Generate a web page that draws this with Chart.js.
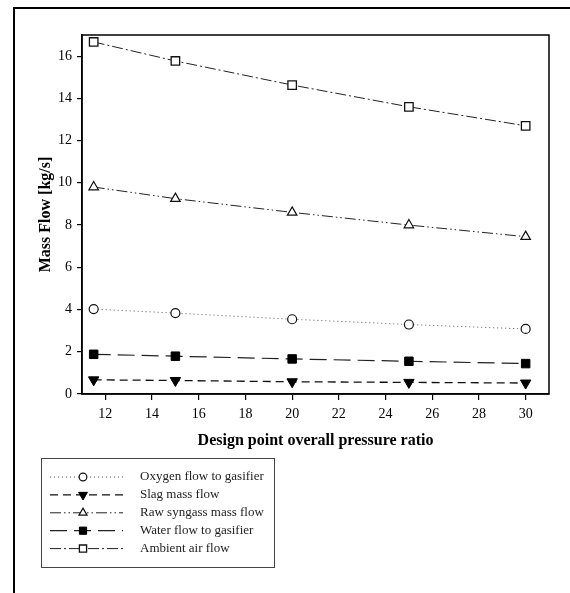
<!DOCTYPE html>
<html>
<head>
<meta charset="utf-8">
<script src="https://cdn.jsdelivr.net/npm/chart.js@4.4.1/dist/chart.umd.min.js"></script>
<style>
  html, body { margin: 0; padding: 0; background: #fff; }
  #wrap { position: relative; width: 570px; height: 593px; }
</style>
</head>
<body>
<div id="wrap"><canvas id="massFlowChart" width="570" height="593"></canvas></div>
<script>
// Pressure ratio sweep and resulting mass flows [kg/s]
const pressureRatio = [11.5, 15, 20, 25, 30];
const oxygenFlow = [4.02, 3.83, 3.54, 3.29, 3.08];
const slagFlow = [0.67, 0.64, 0.58, 0.55, 0.52];
const syngasFlow = [9.8, 9.25, 8.6, 8.0, 7.45];
const waterFlow = [1.88, 1.79, 1.66, 1.55, 1.44];
const airFlow = [16.67, 15.77, 14.63, 13.6, 12.7];

const xTicks = [12, 14, 16, 18, 20, 22, 24, 26, 28, 30];
const yTicks = [0, 2, 4, 6, 8, 10, 12, 14, 16];

const seriesNames = [
    'Oxygen flow to gasifier',
    'Slag mass flow',
    'Raw syngass mass flow',
    'Water flow to gasifier',
    'Ambient air flow'
];

const serif = '"Liberation Serif", "Times New Roman", serif';

function points(values) {
    return pressureRatio.map((x, i) => ({ x: x, y: values[i] }));
}

const datasets = [
    {
        label: seriesNames[0], data: points(oxygenFlow),
        borderColor: '#555', borderWidth: 1, borderDash: [1, 3],
        pointStyle: 'circle', pointRadius: 4.5,
        pointBackgroundColor: '#fff', pointBorderColor: '#111', pointBorderWidth: 1.2
    },
    {
        label: seriesNames[1], data: points(slagFlow),
        borderColor: '#111', borderWidth: 1.3, borderDash: [8, 5],
        pointStyle: 'triangle', rotation: 180, pointRadius: 6,
        pointBackgroundColor: '#000', pointBorderColor: '#000', pointBorderWidth: 1
    },
    {
        label: seriesNames[2], data: points(syngasFlow),
        borderColor: '#222', borderWidth: 1, borderDash: [11, 3, 1.5, 3, 1.5, 3],
        pointStyle: 'triangle', pointRadius: 5.5,
        pointBackgroundColor: '#fff', pointBorderColor: '#111', pointBorderWidth: 1.2
    },
    {
        label: seriesNames[3], data: points(waterFlow),
        borderColor: '#222', borderWidth: 1.2, borderDash: [17, 7],
        pointStyle: 'rect', pointRadius: 6,
        pointBackgroundColor: '#000', pointBorderColor: '#000', pointBorderWidth: 1
    },
    {
        label: seriesNames[4], data: points(airFlow),
        borderColor: '#222', borderWidth: 1, borderDash: [11, 3, 2, 3],
        pointStyle: 'rect', pointRadius: 6,
        pointBackgroundColor: '#fff', pointBorderColor: '#111', pointBorderWidth: 1.3
    }
];

// Outer frame, closed plot box, axis titles and the boxed legend
const decorations = {
    id: 'decorations',
    afterDraw(chart) {
        const ctx = chart.ctx;
        const area = chart.chartArea;

        ctx.save();
        ctx.strokeStyle = '#000';
        ctx.lineWidth = 2;
        ctx.beginPath();
        ctx.moveTo(14, 593);
        ctx.lineTo(14, 8);
        ctx.lineTo(570, 8);
        ctx.stroke();

        ctx.lineWidth = 1.5;
        ctx.strokeRect(area.left, area.top, area.right - area.left, area.bottom - area.top);

        ctx.fillStyle = '#000';
        ctx.font = 'bold 16px ' + serif;
        ctx.textAlign = 'center';
        ctx.textBaseline = 'middle';
        ctx.fillText('Design point overall pressure ratio', (area.left + area.right) / 2, 441);

        ctx.save();
        ctx.translate(46, (area.top + area.bottom) / 2);
        ctx.rotate(-Math.PI / 2);
        ctx.fillText('Mass Flow [kg/s]', 0, 0);
        ctx.restore();

        // legend
        const box = { left: 41, top: 458, right: 274, bottom: 567 };
        ctx.lineWidth = 1;
        ctx.strokeStyle = '#444';
        ctx.strokeRect(box.left + 0.5, box.top + 0.5, box.right - box.left, box.bottom - box.top);

        ctx.font = '13px ' + serif;
        ctx.textAlign = 'left';
        ctx.fillStyle = '#222';
        chart.data.datasets.forEach((ds, i) => {
            const y = 477 + i * 17.9;
            ctx.save();
            ctx.strokeStyle = ds.borderColor;
            ctx.lineWidth = ds.borderWidth;
            ctx.setLineDash(ds.borderDash);
            ctx.beginPath();
            ctx.moveTo(50, y);
            ctx.lineTo(123, y);
            ctx.stroke();
            ctx.restore();

            ctx.save();
            ctx.fillStyle = ds.pointBackgroundColor;
            ctx.strokeStyle = ds.pointBorderColor;
            ctx.lineWidth = ds.pointBorderWidth;
            Chart.helpers.drawPoint(ctx, {
                pointStyle: ds.pointStyle,
                rotation: ds.rotation || 0,
                radius: ds.pointRadius * 0.85,
                borderWidth: ds.pointBorderWidth
            }, 83, y);
            ctx.restore();

            ctx.fillText(ds.label, 140, y);
        });
        ctx.restore();
    }
};

new Chart(document.getElementById('massFlowChart').getContext('2d'), {
    type: 'line',
    data: { datasets: datasets },
    options: {
        responsive: false,
        animation: false,
        events: [],
        layout: { padding: { left: 0, top: 35, right: 21, bottom: 139 } },
        plugins: {
            legend: { display: false },
            title: { display: false },
            tooltip: { enabled: false }
        },
        scales: {
            x: {
                type: 'linear',
                min: 11,
                max: 31,
                afterBuildTicks: (scale) => { scale.ticks = xTicks.map(v => ({ value: v })); },
                afterFit: (scale) => { scale.height = 60; },
                grid: { drawOnChartArea: false, drawTicks: true, tickLength: 6, color: '#000', lineWidth: 1.2 },
                border: { display: true, color: '#000', width: 1.5 },
                ticks: { color: '#000', padding: 6, maxRotation: 0, font: { family: serif, size: 14 } }
            },
            y: {
                min: 0,
                max: 17,
                afterBuildTicks: (scale) => { scale.ticks = yTicks.map(v => ({ value: v })); },
                afterFit: (scale) => { scale.width = 82; },
                grid: { drawOnChartArea: false, drawTicks: true, tickLength: 5, color: '#000', lineWidth: 1.2 },
                border: { display: true, color: '#000', width: 1.5 },
                ticks: { color: '#000', padding: 5, font: { family: serif, size: 14 } }
            }
        }
    },
    plugins: [decorations]
});
</script>
</body>
</html>
